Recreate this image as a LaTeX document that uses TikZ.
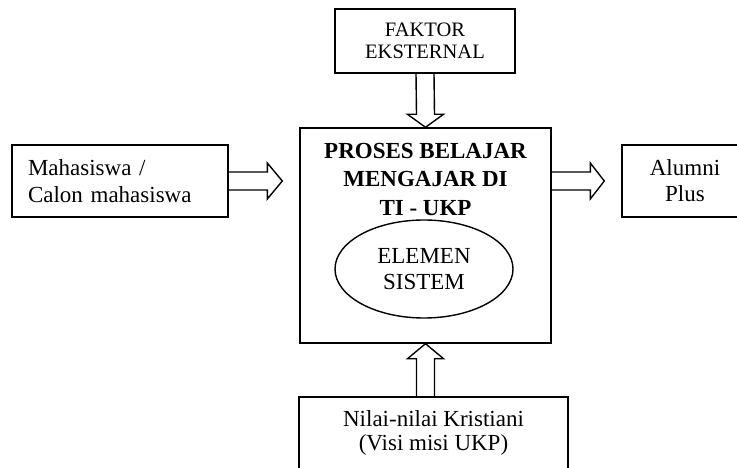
\documentclass[tikz,border=0pt]{standalone}
\usepackage{fontspec}
\setmainfont{Liberation Serif}
\usetikzlibrary{calc,shapes.geometric}
\begin{document}
\begin{tikzpicture}[x=1pt,y=-1pt,
  box/.style={draw,line width=1.4pt,inner sep=0pt,font=\fontsize{23}{26}\selectfont,align=center},
  blk/.style={draw,line width=1.4pt,line join=miter}]
\useasboundingbox (0,0) rectangle (737,468);
% boxes
\node[box,minimum width=180,minimum height=64,font=\fontsize{20.5}{21.5}\selectfont] (fk) at (425,41) {FAKTOR\\EKSTERNAL};
\node[box,minimum width=251,minimum height=215] (main) at (425.5,235.5) {};
\node[inner sep=0pt,align=center,font=\fontsize{23}{28.5}\selectfont\bfseries,anchor=north] (ttl) at (425.5,143) {PROSES BELAJAR\\MENGAJAR DI\\TI - UKP};
\node[box,ellipse,minimum width=178,minimum height=98,font=\fontsize{23}{25.5}\selectfont] (el) at (424,269) {ELEMEN\\SISTEM};
\node[box,text width=184,inner xsep=16pt,align=left,minimum height=72,font=\fontsize{23}{27}\selectfont] (mh) at (120,181) {Mahasiswa /\\Calon mahasiswa};
\node[box,minimum width=126,minimum height=72] (al) at (685,181) {Alumni\\Plus};
\node[box,minimum width=269,minimum height=72,font=\fontsize{23}{24}\selectfont] (nl) at (433.5,433) {Nilai-nilai Kristiani\\(Visi misi UKP)};
% arrow end points
\coordinate (lt) at ($(main.west |- mh.east)+(-17,0)$);
\coordinate (rs) at (main.east |- al.west);
\coordinate (rt) at ($(al.west)+(-17,0)$);
\coordinate (us) at (main.south |- nl.north);
% block arrows
\draw[blk] ($(fk.south)+(-9,0)$) -- ($(main.north)+(-9,-13)$) -- ($(main.north)+(-18,-13)$) -- (main.north) -- ($(main.north)+(18,-13)$) -- ($(main.north)+(9,-13)$) -- ($(fk.south)+(9,0)$);
\draw[blk] ($(us)+(-9,0)$) -- ($(main.south)+(-9,15)$) -- ($(main.south)+(-18,15)$) -- (main.south) -- ($(main.south)+(18,15)$) -- ($(main.south)+(9,15)$) -- ($(us)+(9,0)$);
\draw[blk] ($(mh.east)+(0,-9)$) -- ($(lt)+(-15,-9)$) -- ($(lt)+(-15,-18)$) -- (lt) -- ($(lt)+(-15,18)$) -- ($(lt)+(-15,9)$) -- ($(mh.east)+(0,9)$);
\draw[blk] ($(rs)+(0,-9)$) -- ($(rt)+(-14,-9)$) -- ($(rt)+(-14,-18)$) -- (rt) -- ($(rt)+(-14,18)$) -- ($(rt)+(-14,9)$) -- ($(rs)+(0,9)$);
\end{tikzpicture}
\end{document}
